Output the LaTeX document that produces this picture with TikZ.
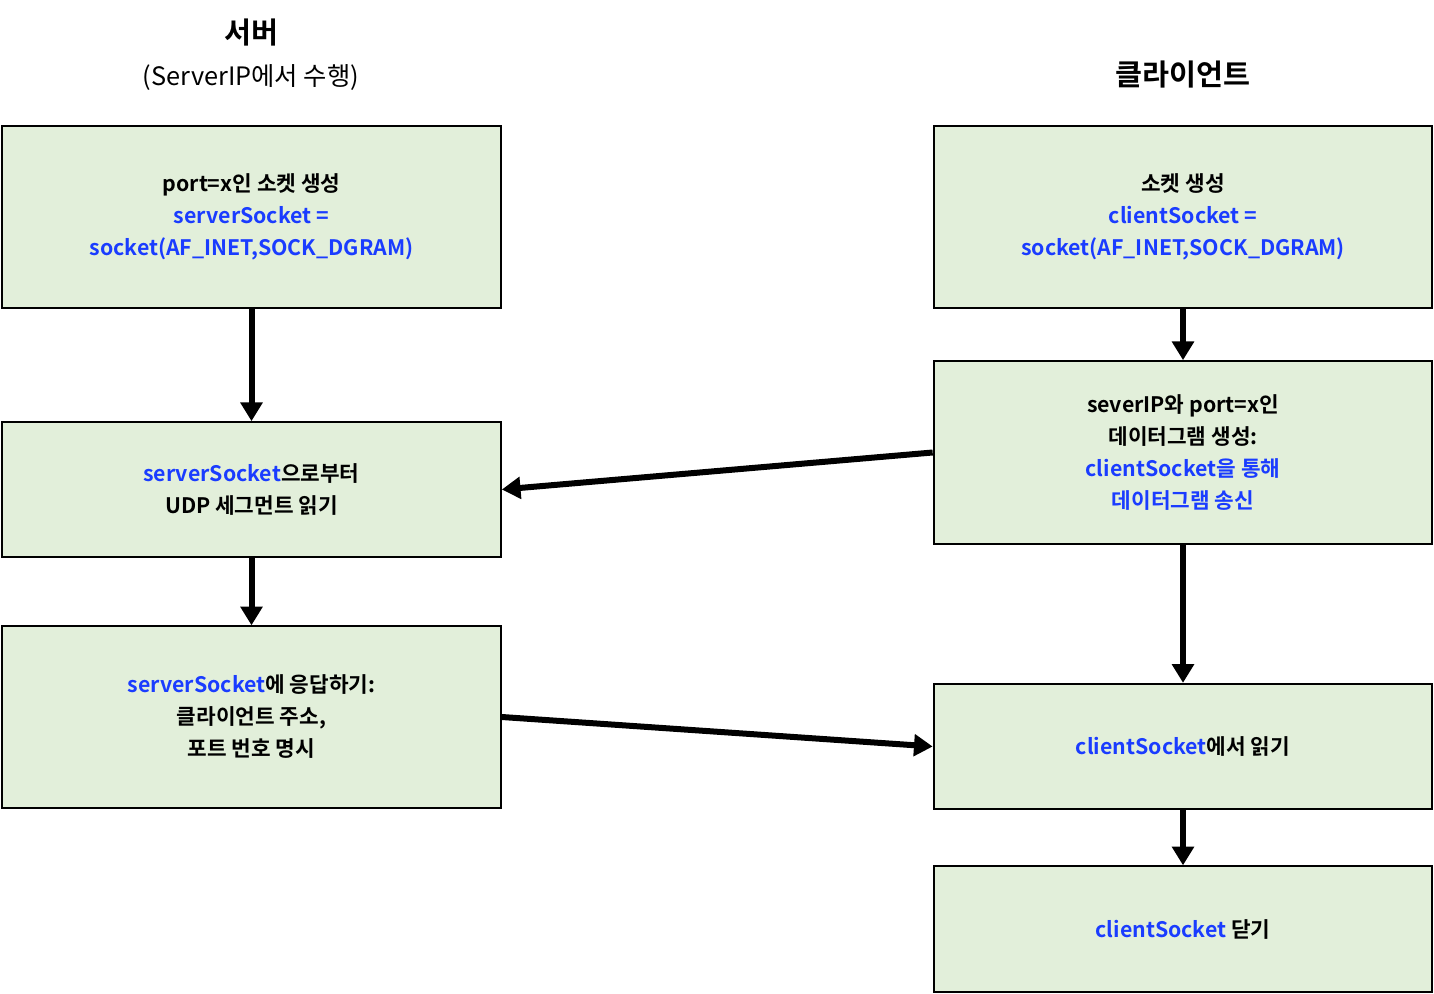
\documentclass[tikz,border=0pt]{standalone}
\usepackage{fontspec}
\setmainfont{Noto Sans CJK KR}[BoldFont={Noto Sans CJK KR Bold}]
\usetikzlibrary{arrows.meta}
\definecolor{boxfill}{HTML}{E2EFDA}
\definecolor{codeblue}{HTML}{1A3CFF}
\tikzset{>={Triangle[length=14pt,width=16pt]}}
\tikzset{
  stepbox/.style={draw, line width=1.5pt, fill=boxfill, minimum width=374pt, align=center, font=\bfseries\fontsize{16}{24}\selectfont},
  flow/.style={->, line width=4.5pt, shorten >=0pt}
}
\newcommand{\code}[1]{\textcolor{codeblue}{#1}}

\begin{document}
\begin{tikzpicture}[x=0.75pt, y=-0.75pt]
        \useasboundingbox (0,0) rectangle (1434,994);
        % titles
        \node[font=\bfseries\fontsize{22}{26}\selectfont] (stitle) at (251,33) {서버};
        \node[font=\fontsize{19}{24}\selectfont] (ssub) at (251,78) {(ServerIP에서 수행)};
        \node[font=\bfseries\fontsize{22}{26}\selectfont] (ctitle) at (1183,75) {클라이언트};

        % server side
        \node[stepbox, minimum height=136pt] (screate) at (251.5,217) {port=x인 소켓 생성\\ \code{serverSocket =}\\ \code{socket(AF\_INET,SOCK\_DGRAM)}};
        \node[stepbox, minimum height=101pt] (sread) at (251.5,489.5) {\code{serverSocket}으로부터\\ UDP 세그먼트 읽기};
        \node[stepbox, minimum height=136pt] (sreply) at (251.5,717) {\code{serverSocket}에 응답하기:\\ 클라이언트 주소,\\ 포트 번호 명시};

        % client side
        \node[stepbox, minimum height=136pt] (ccreate) at (1183,217) {소켓 생성\\ \code{clientSocket =}\\ \code{socket(AF\_INET,SOCK\_DGRAM)}};
        \node[stepbox, minimum height=137pt] (csend) at (1183,452.5) {severIP와 port=x인\\ 데이터그램 생성:\\ \code{clientSocket을 통해}\\ \code{데이터그램 송신}};
        \node[stepbox, minimum height=94pt] (cread) at (1183,746.5) {\code{clientSocket}에서 읽기};
        \node[stepbox, minimum height=94pt] (cclose) at (1183,929) {\code{clientSocket} 닫기};

        % connectors
        \draw[flow] (screate) -- (sread);
        \draw[flow] (sread) -- (sreply);
        \draw[flow] (ccreate) -- (csend);
        \draw[flow] (csend) -- (cread);
        \draw[flow] (cread) -- (cclose);
        \draw[flow] (csend.west) -- (sread.east);
        \draw[flow] (sreply.east) -- (cread.west);
    \end{tikzpicture}
\end{document}
